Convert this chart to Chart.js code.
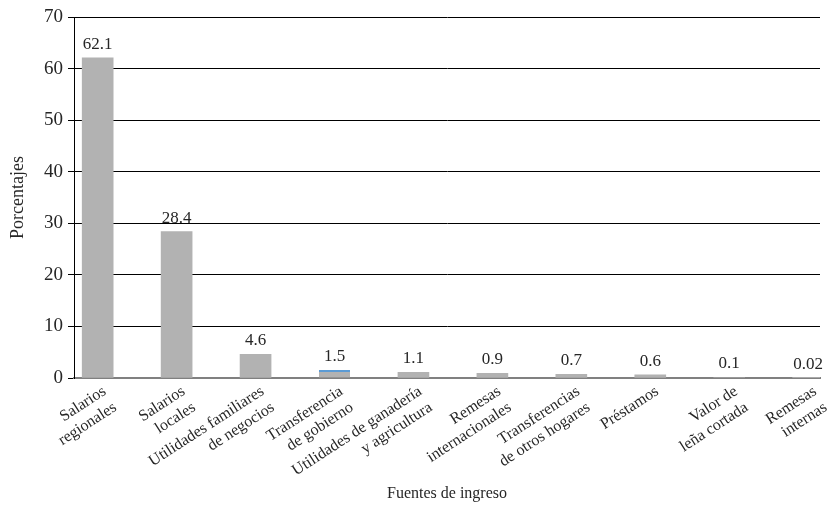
<!DOCTYPE html>
<html>
<head>
<meta charset="utf-8">
<script src="https://cdn.jsdelivr.net/npm/chart.js@4"></script>
<style>
  html, body { margin: 0; padding: 0; background: #fff; }
</style>
</head>
<body>
<canvas id="grafica" width="831" height="511"></canvas>
<script>
// datos
var fuentes = [
  ["Salarios", "regionales"],
  ["Salarios", "locales"],
  ["Utilidades familiares", "de negocios"],
  ["Transferencia", "de gobierno"],
  ["Utilidades de ganadería", "y agricultura"],
  ["Remesas", "internacionales"],
  ["Transferencias", "de otros hogares"],
  ["Préstamos"],
  ["Valor de", "leña cortada"],
  ["Remesas", "internas"]
];
var porcentajes = [62.1, 28.4, 4.6, 1.5, 1.1, 0.9, 0.7, 0.6, 0.1, 0.02];
var etiquetas = ["62.1", "28.4", "4.6", "1.5", "1.1", "0.9", "0.7", "0.6", "0.1", "0.02"];
var marcasY = [0, 10, 20, 30, 40, 50, 60, 70];

var fuente = '"Liberation Serif", "DejaVu Serif", serif';

// valores encima de cada barra
var valores = {
  id: 'valores',
  afterDatasetsDraw: function(chart) {
    var ctx = chart.ctx;
    var meta = chart.getDatasetMeta(0);
    ctx.save();
    ctx.font = '17px ' + fuente;
    ctx.fillStyle = '#262626';
    ctx.textAlign = 'center';
    ctx.textBaseline = 'alphabetic';
    meta.data.forEach(function(bar, i) {
      ctx.fillText(etiquetas[i], bar.x, bar.y - 9);
    });
    ctx.restore();
  }
};

var ctx = document.getElementById("grafica");
var grafica = new Chart(ctx, {
  type: 'bar',
  data: {
    datasets: [{
      data: porcentajes.map(function(v, i) { return { x: i, y: v }; }),
      backgroundColor: '#b2b2b2',
      // la barra de "Transferencia de gobierno" tiene un filo azul arriba
      borderColor: '#5b9bd5',
      borderSkipped: 'bottom',
      borderWidth: function(c) {
        return c.dataIndex === 3 ? { top: 2, left: 0, right: 0, bottom: 0 } : 0;
      },
      barThickness: 31
    }]
  },
  plugins: [valores],
  options: {
    responsive: false,
    devicePixelRatio: 1,
    animation: false,
    layout: { padding: { top: 17, right: 11, left: 0, bottom: 0 } },
    plugins: {
      legend: { display: false },
      tooltip: { enabled: false }
    },
    scales: {
      x: {
        type: 'linear',
        offset: false,
        min: -0.3,
        max: 9.15,
        afterBuildTicks: function(s) {
          s.ticks = fuentes.map(function(_, i) { return { value: i }; });
        },
        afterFit: function(s) { s.height = 133; },
        grid: { display: false },
        border: { color: '#808080', width: 2 },
        ticks: {
          autoSkip: false,
          minRotation: 33,
          maxRotation: 33,
          padding: -4,
          labelOffset: 7,
          color: '#262626',
          font: { family: fuente, size: 16 },
          callback: function(value, index) { return fuentes[index]; }
        },
        title: {
          display: true,
          text: 'Fuentes de ingreso',
          color: '#262626',
          font: { family: fuente, size: 16 },
          padding: { top: 0, bottom: 8 }
        }
      },
      y: {
        min: 0,
        max: 70,
        afterBuildTicks: function(s) {
          s.ticks = marcasY.map(function(v) { return { value: v }; });
        },
        afterFit: function(s) { s.width = 74; },
        grid: {
          color: function(c) { return c.tick && c.tick.value === 0 ? 'rgba(0,0,0,0)' : '#000'; },
          tickColor: '#000',
          tickLength: 6,
          lineWidth: 1
        },
        border: { color: '#000', width: 1 },
        ticks: {
          padding: 5,
          color: '#262626',
          font: { family: fuente, size: 19 }
        },
        title: {
          display: true,
          text: 'Porcentajes',
          color: '#262626',
          font: { family: fuente, size: 18 },
          padding: { top: 7, bottom: 6 }
        }
      }
    }
  }
});
</script>
</body>
</html>
